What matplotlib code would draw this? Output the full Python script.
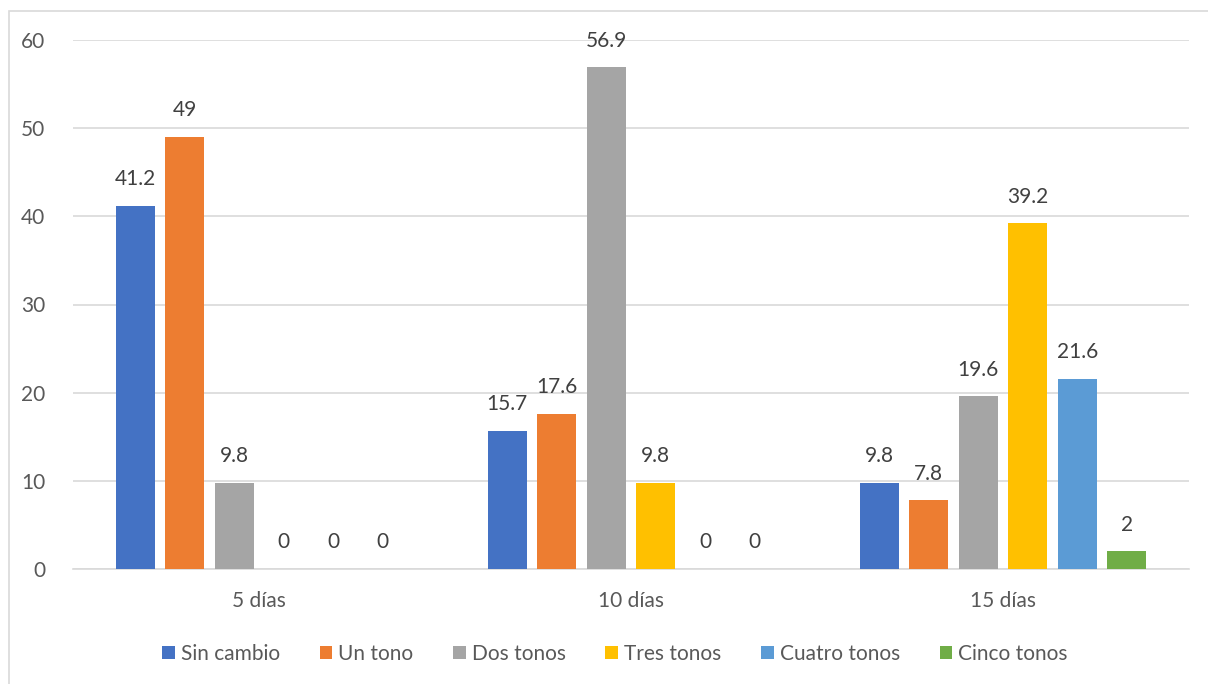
"""Grouped bar chart: tone change by number of days."""

import matplotlib.pyplot as plt
import numpy as np
from matplotlib.patches import Rectangle

categories = ["5 días", "10 días", "15 días"]
series_names = ["Sin cambio", "Un tono", "Dos tonos", "Tres tonos", "Cuatro tonos", "Cinco tonos"]
sin_cambio = [41.2, 15.7, 9.8]
un_tono = [49, 17.6, 7.8]
dos_tonos = [9.8, 56.9, 19.6]
tres_tonos = [0, 9.8, 39.2]
cuatro_tonos = [0, 0, 21.6]
cinco_tonos = [0, 0, 2]
colors = ["#4472C4", "#ED7D31", "#A5A5A5", "#FFC000", "#5B9BD5", "#70AD47"]

plt.rcParams["font.family"] = ["Lato", "DejaVu Sans"]

W, H = 1208, 684
fig = plt.figure(figsize=(W / 100, H / 100), dpi=100)
ax = fig.add_axes([73 / W, 1 - 569 / H, (1189 - 73) / W, (569 - 40) / H])

# chart-area frame
fig.patches.append(Rectangle((9 / W, -0.05), 1.2, 1 - 11 / H + 0.05,
                             transform=fig.transFigure, fill=False,
                             edgecolor="#d9d9d9", linewidth=1.2))

all_series = [sin_cambio, un_tono, dos_tonos, tres_tonos, cuatro_tonos, cinco_tonos]
x = np.arange(len(categories))
slot = 49.5 / 372
width = 39 / 372
for i, (name, vals, c) in enumerate(zip(series_names, all_series, colors)):
    bars = ax.bar(x + (i - 2.5) * slot, vals, width=width, color=c, label=name, zorder=3)
    ax.bar_label(bars, labels=[f"{v:g}" for v in vals], padding=12,
                 fontsize=15, color="#404040")

ax.set_xlim(-0.5, 2.5)
ax.set_ylim(0, 60)
ax.set_yticks(range(0, 61, 10))
ax.set_xticks(x)
ax.set_xticklabels(categories)
ax.yaxis.grid(True, color="#d9d9d9", linewidth=1.2, zorder=0)
for s in ["top", "right", "left"]:
    ax.spines[s].set_visible(False)
ax.spines["bottom"].set_color("#d9d9d9")
ax.spines["bottom"].set_linewidth(1.2)
ax.tick_params(length=0, labelsize=15, labelcolor="#595959")
ax.tick_params(axis="y", pad=20)
ax.tick_params(axis="x", pad=16)

fig.legend(loc="center", bbox_to_anchor=(615 / W, 1 - 654 / H), ncol=6,
           frameon=False, fontsize=15, labelcolor="#595959",
           handlelength=0.6, handleheight=0.6, handletextpad=0.3,
           columnspacing=1.9)

fig.savefig("out.png", dpi=100)
